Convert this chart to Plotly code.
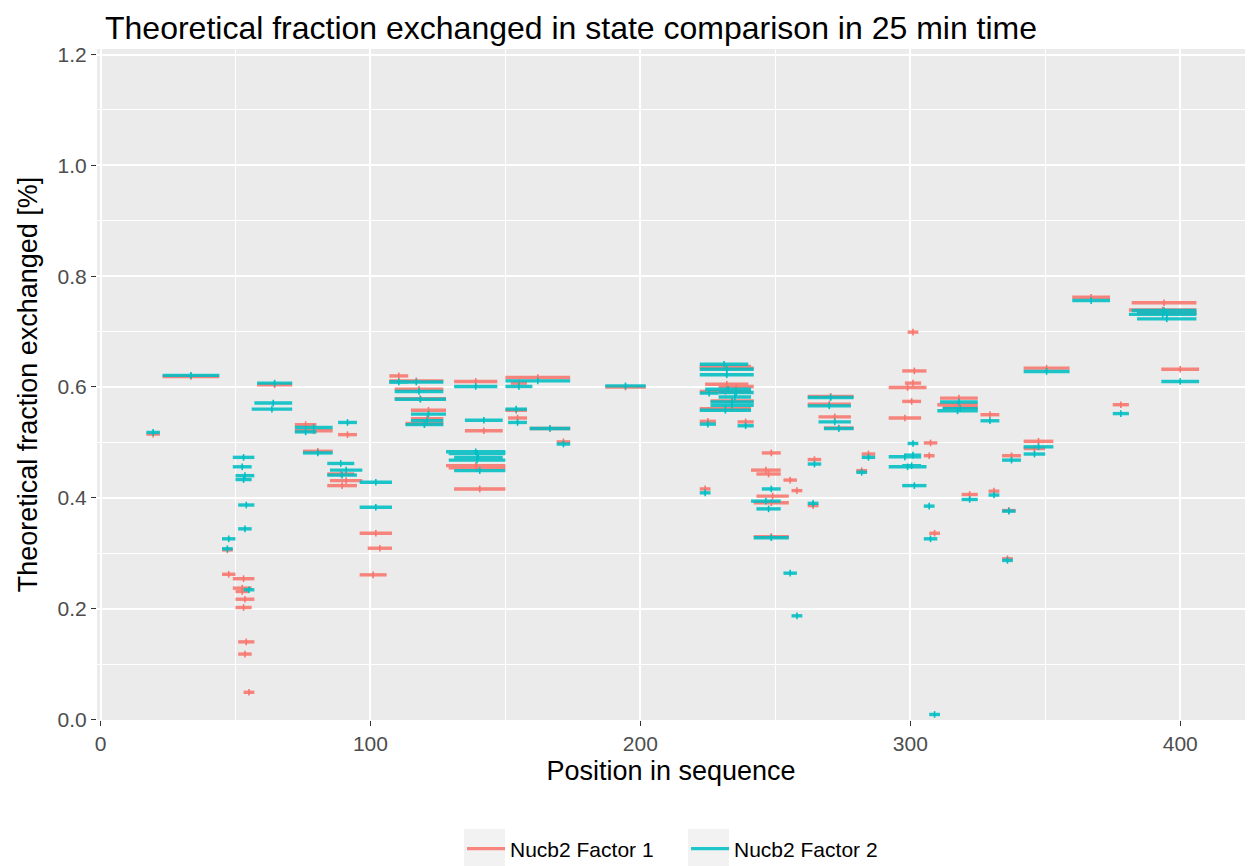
import plotly.graph_objects as go

# Peptide segments: start residue, end residue, theoretical fraction exchanged
f1_start = [17, 23, 58, 45, 45, 49, 49, 50, 50, 50, 51, 51, 53, 72, 72, 75, 88, 84, 85, 84,
            96, 99, 96, 107, 107, 109, 109, 115, 115, 113, 131, 135, 128, 129, 131, 150, 152, 150, 151, 159,
            169, 187, 222, 222, 224, 229, 222, 226, 222, 222, 236, 222, 245, 241, 243, 253, 256, 243, 242, 242,
            262, 262, 266, 268, 262, 262, 280, 282, 299, 297, 298, 292, 297, 292, 305, 305, 307, 311, 310, 312,
            326, 319, 329, 334, 334, 334, 342, 342, 342, 360, 382, 381, 384, 393, 375]
f1_end = [22, 44, 71, 50, 49, 57, 56, 55, 57, 56, 57, 56, 57, 80, 86, 86, 95, 94, 97, 95,
          108, 108, 106, 114, 127, 127, 128, 128, 127, 127, 147, 149, 150, 150, 150, 174, 158, 158, 158, 174,
          174, 202, 241, 242, 240, 242, 241, 242, 241, 228, 242, 226, 252, 252, 252, 258, 260, 255, 255, 255,
          279, 278, 278, 279, 267, 266, 284, 287, 303, 306, 304, 306, 304, 304, 310, 309, 311, 325, 325, 325,
          333, 325, 333, 339, 338, 341, 353, 350, 359, 374, 406, 406, 406, 407, 381]
f1_value = [0.515, 0.619, 0.604, 0.262, 0.306, 0.254, 0.237, 0.231, 0.217, 0.202, 0.140, 0.118, 0.049,
            0.532, 0.521, 0.484, 0.514, 0.443, 0.431, 0.422,
            0.336, 0.309, 0.261, 0.620, 0.611, 0.596, 0.579, 0.558, 0.543, 0.534,
            0.610, 0.521, 0.458, 0.454, 0.416, 0.617, 0.607, 0.558, 0.544, 0.525,
            0.501, 0.600, 0.637, 0.634, 0.605, 0.601, 0.592, 0.575, 0.561, 0.538,
            0.537, 0.416, 0.481, 0.450, 0.443, 0.432, 0.413, 0.403, 0.391, 0.330,
            0.583, 0.569, 0.546, 0.526, 0.469, 0.386, 0.449, 0.479, 0.699, 0.629,
            0.607, 0.599, 0.574, 0.544, 0.499, 0.476, 0.336, 0.580, 0.568, 0.563,
            0.550, 0.406, 0.412, 0.377, 0.290, 0.476, 0.502, 0.489, 0.634, 0.762,
            0.752, 0.739, 0.733, 0.632, 0.568]

f2_start = [17, 23, 58, 57, 56, 49, 49, 50, 50, 51, 51, 45, 45, 53, 72, 72, 88, 75, 84, 85,
            84, 96, 96, 107, 107, 109, 109, 115, 115, 113, 131, 135, 128, 129, 131, 129, 131, 150, 150, 150,
            151, 159, 169, 187, 222, 222, 222, 224, 222, 229, 229, 226, 226, 222, 222, 236, 222, 245, 241, 243,
            242, 253, 256, 262, 262, 266, 268, 262, 262, 280, 282, 299, 292, 298, 297, 292, 297, 305, 305, 307,
            311, 312, 310, 326, 319, 329, 334, 334, 334, 342, 342, 342, 360, 382, 384, 381, 384, 393, 375]
f2_end = [22, 44, 71, 71, 71, 57, 56, 57, 56, 57, 56, 50, 49, 57, 86, 80, 95, 86, 94, 97,
          95, 108, 108, 114, 127, 127, 128, 128, 127, 127, 147, 149, 150, 150, 149, 150, 150, 174, 160, 158,
          158, 174, 174, 202, 240, 242, 242, 241, 229, 242, 241, 242, 242, 241, 228, 242, 226, 252, 252, 252,
          255, 258, 260, 279, 278, 278, 279, 267, 266, 284, 287, 303, 304, 304, 304, 306, 306, 309, 310, 311,
          325, 325, 325, 333, 325, 333, 339, 338, 341, 353, 350, 359, 374, 406, 406, 406, 406, 407, 381]
f2_value = [0.518, 0.621, 0.607, 0.571, 0.560, 0.473, 0.456, 0.440, 0.433, 0.387, 0.344, 0.326, 0.308, 0.234,
            0.527, 0.519, 0.536, 0.481, 0.462, 0.450,
            0.441, 0.428, 0.383, 0.609, 0.609, 0.592, 0.578, 0.551, 0.539, 0.532,
            0.601, 0.540, 0.483, 0.480, 0.473, 0.468, 0.449, 0.611, 0.601, 0.560,
            0.536, 0.525, 0.497, 0.602, 0.641, 0.632, 0.622, 0.596, 0.589, 0.590,
            0.582, 0.573, 0.567, 0.558, 0.533, 0.530, 0.409, 0.416, 0.394, 0.380,
            0.328, 0.264, 0.187, 0.581, 0.566, 0.537, 0.525, 0.461, 0.390, 0.446,
            0.473, 0.498, 0.474, 0.477, 0.458, 0.456, 0.422, 0.385, 0.326, 0.009,
            0.573, 0.561, 0.557, 0.539, 0.397, 0.405, 0.376, 0.287, 0.468, 0.492,
            0.479, 0.628, 0.756, 0.738, 0.733, 0.731, 0.723, 0.610, 0.552]

series_names = ["Nucb2 Factor 1", "Nucb2 Factor 2"]
series_colors = ["#F8766D", "#00BFC4"]
error_size = 0.006

x_ticks = [0, 100, 200, 300, 400]
y_ticks = [0.0, 0.2, 0.4, 0.6, 0.8, 1.0, 1.2]

FONT = "Liberation Sans, Arial, sans-serif"

# Page geometry (pixels)
W, H = 1252, 866
M_L, M_R, M_T, M_B = 97, 7, 49, 146
PLOT_W = W - M_L - M_R
PLOT_H = H - M_T - M_B


def px_to_paper_x(px):
    return (px - M_L) / PLOT_W


def px_to_paper_y(py):
    return (H - M_B - py) / PLOT_H


fig = go.Figure()

series = [(f1_start, f1_end, f1_value), (f2_start, f2_end, f2_value)]
for (starts, ends, values), name, color in zip(series, series_names, series_colors):
    xs, ys = [], []
    for s, e, v in zip(starts, ends, values):
        xs += [s, e, None]
        ys += [v, v, None]
    fig.add_trace(go.Scatter(
        x=xs, y=ys, mode="lines", name=name, legendgroup=name,
        line=dict(color=color, width=3.4), opacity=0.88,
        hoverinfo="skip",
    ))
    mids = [(s + e) / 2 for s, e in zip(starts, ends)]
    fig.add_trace(go.Scatter(
        x=mids, y=values, mode="markers", legendgroup=name, showlegend=False,
        marker=dict(size=2, color=color, opacity=0.6),
        error_y=dict(type="constant", value=error_size, width=0,
                     thickness=1.6, color=color),
        hovertemplate="%{y:.3f}<extra></extra>",
    ))

# grey key backgrounds behind the legend symbols
legend_key_left = [464, 688]
for kx in legend_key_left:
    fig.add_shape(
        type="rect", xref="paper", yref="paper", layer="below",
        x0=px_to_paper_x(kx), x1=px_to_paper_x(kx + 41),
        y0=px_to_paper_y(866), y1=px_to_paper_y(829),
        fillcolor="#F2F2F2", line=dict(width=0),
    )

axis_common = dict(
    showline=False, zeroline=False, automargin=False,
    gridcolor="white", gridwidth=1.8,
    ticks="outside", ticklen=5, tickwidth=1.4, tickcolor="#333333",
    tickfont=dict(family=FONT, size=21, color="#4D4D4D"),
)

fig.update_layout(
    width=W, height=H,
    paper_bgcolor="white", plot_bgcolor="#EBEBEB",
    margin=dict(l=M_L, r=M_R, t=M_T, b=M_B, autoexpand=False),
    title=dict(
        text="Theoretical fraction exchanged in state comparison in 25 min time",
        font=dict(family=FONT, size=32, color="black"),
        x=0, xref="paper", xanchor="left", y=0.968, yanchor="middle",
        pad=dict(l=8),
    ),
    xaxis=dict(
        range=[-1.3, 424], tickvals=x_ticks, ticktext=[str(v) for v in x_ticks],
        title=dict(text="Position in sequence", font=dict(family=FONT, size=27, color="black"),
                   standoff=6),
        minor=dict(tickmode="linear", tick0=50, dtick=100, showgrid=True,
                   gridcolor="white", gridwidth=0.9, ticks=""),
        **axis_common,
    ),
    yaxis=dict(
        range=[-0.001, 1.21], tickvals=y_ticks, ticktext=[f"{v:.1f}" for v in y_ticks],
        title=dict(text="Theoretical fraction exchanged [%]",
                   font=dict(family=FONT, size=27, color="black"), standoff=12),
        minor=dict(tickmode="linear", tick0=0.1, dtick=0.2, showgrid=True,
                   gridcolor="white", gridwidth=0.9, ticks=""),
        **axis_common,
    ),
    legend=dict(
        orientation="h", xref="paper", x=px_to_paper_x(462), xanchor="left",
        yref="container", y=(H - 849) / H, yanchor="middle",
        itemwidth=38, entrywidth=171, entrywidthmode="pixels",
        font=dict(family=FONT, size=21, color="black"),
        bgcolor="rgba(0,0,0,0)",
    ),
    showlegend=True,
)

fig.write_html("out.html")
